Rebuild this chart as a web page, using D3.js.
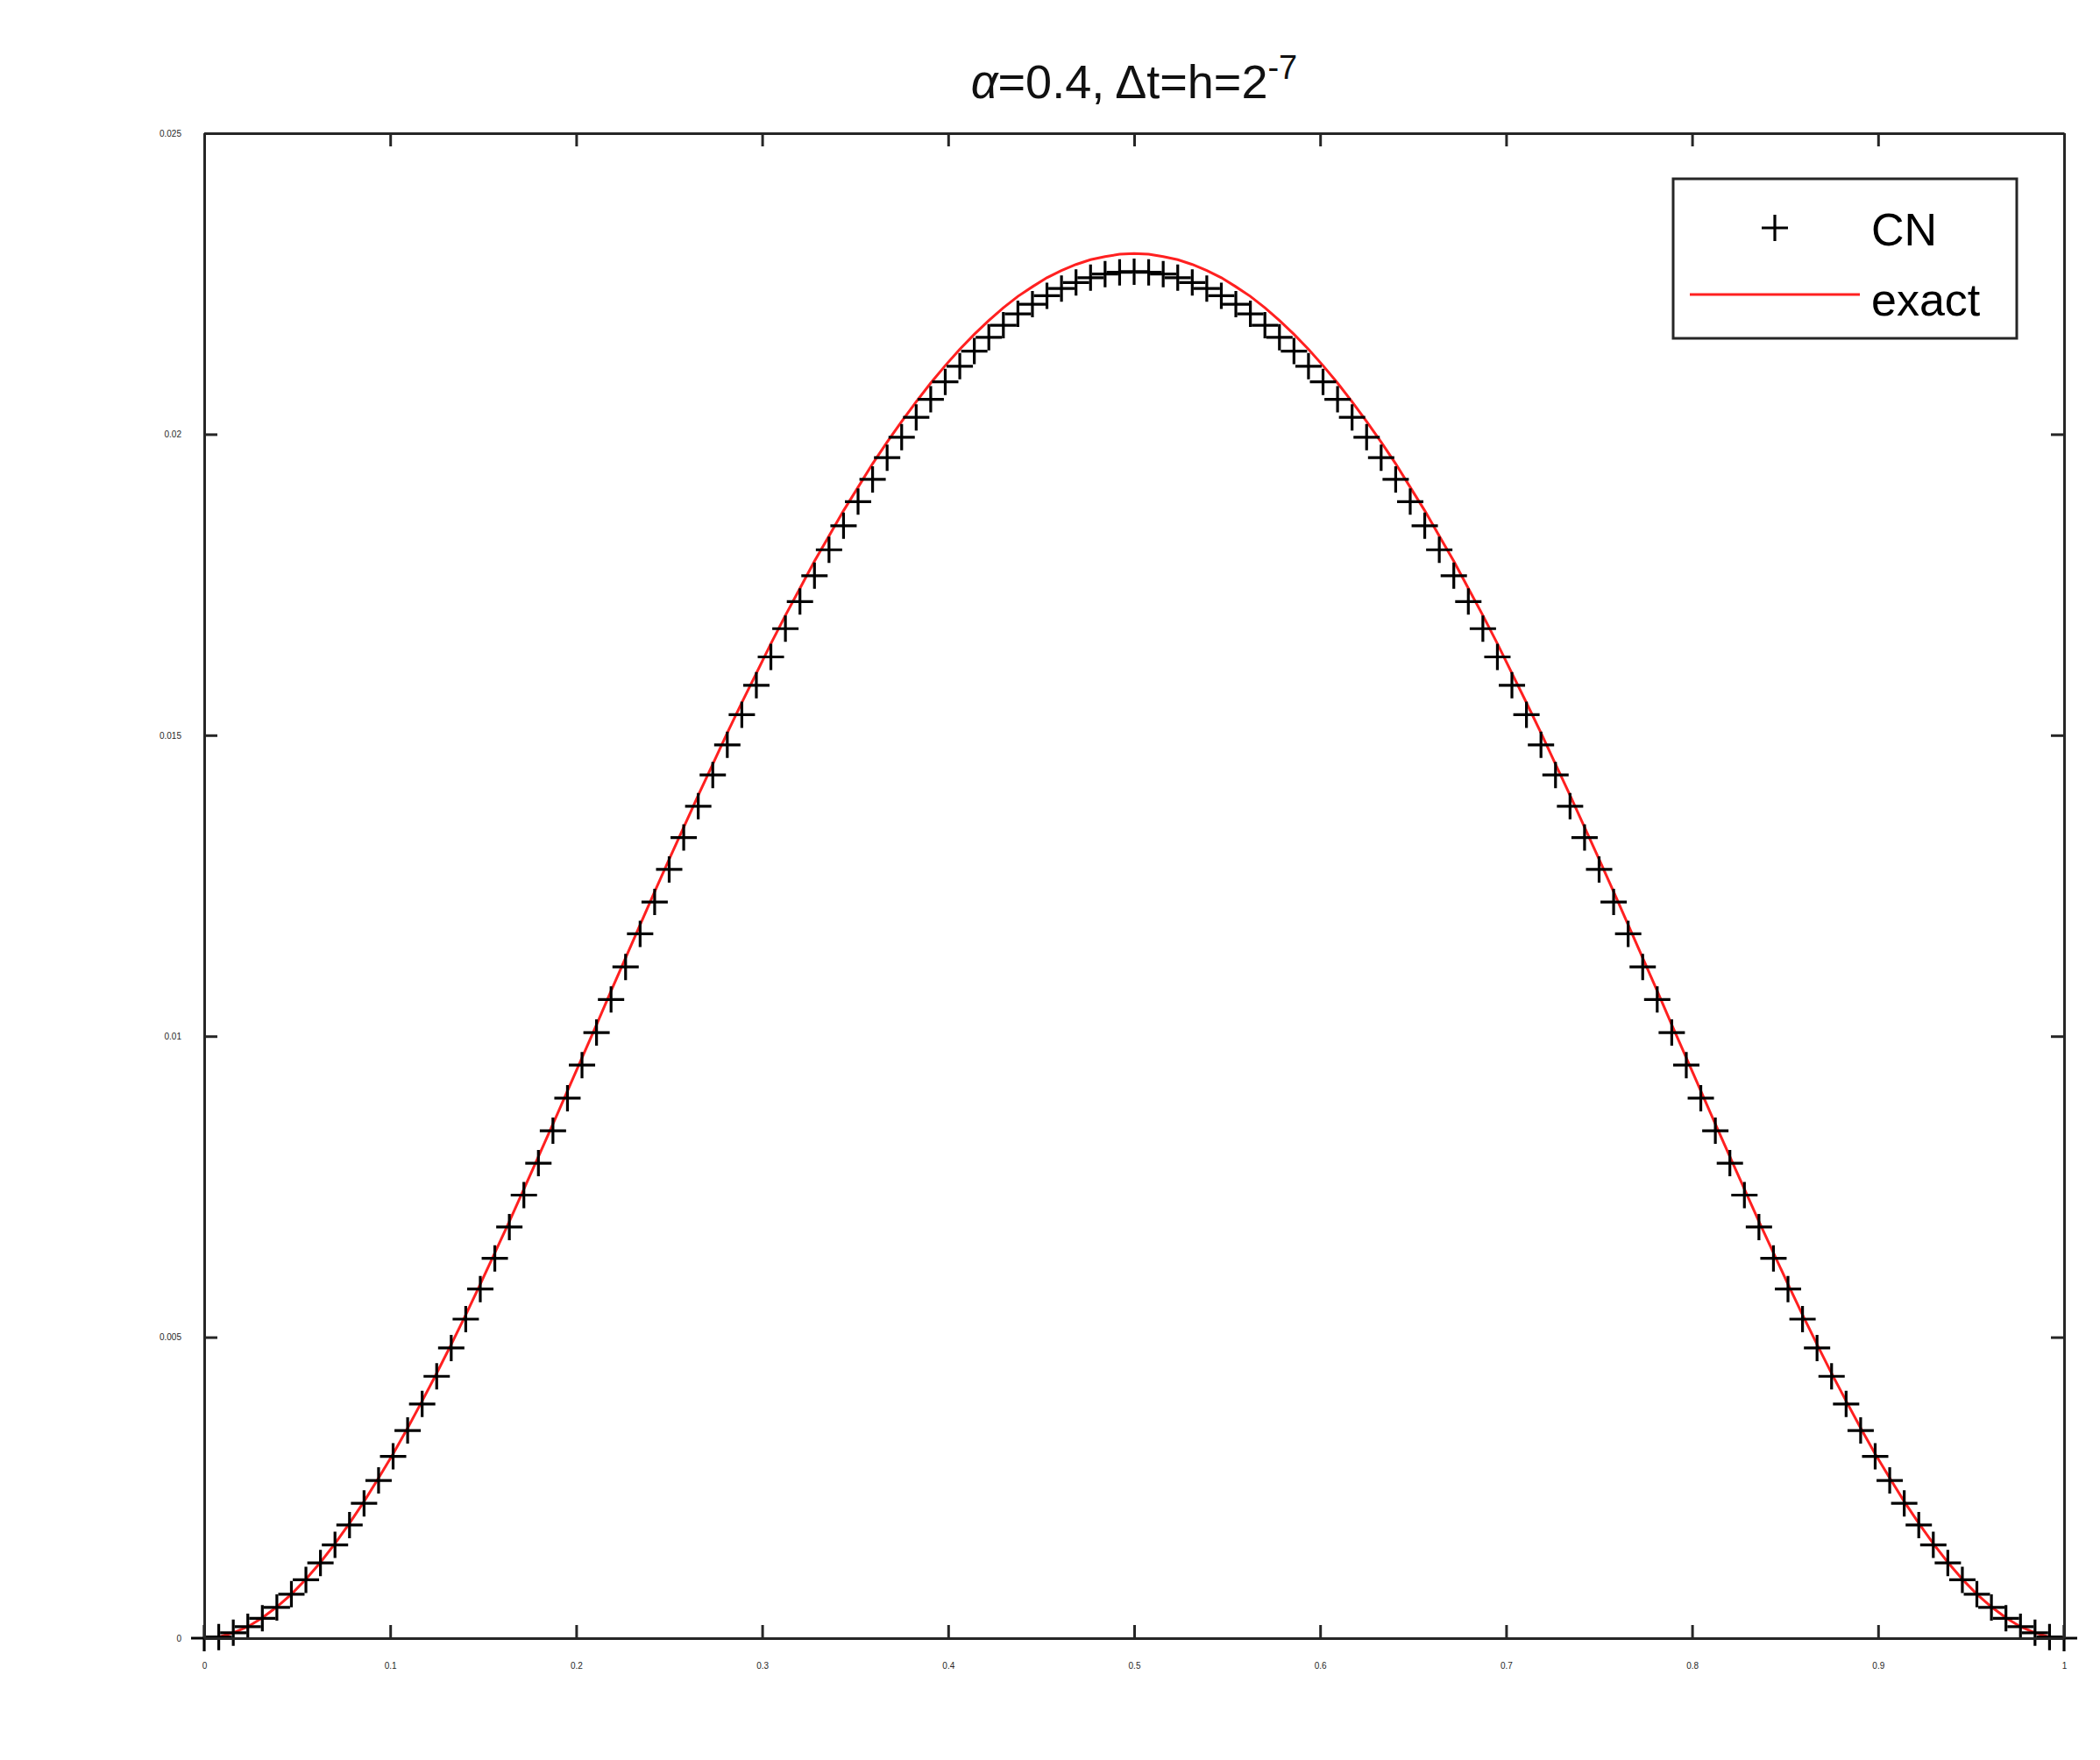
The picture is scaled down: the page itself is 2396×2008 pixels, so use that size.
<!DOCTYPE html>
<html><head><meta charset="utf-8">
<script src="https://cdn.jsdelivr.net/npm/d3@7"></script>
<style>body{margin:0;background:#fff}</style>
</head><body>
<svg id="chart" width="2396" height="2008"></svg>
<script>
// grid x = i/128, i = 0..128
const xTicks = [0,0.1,0.2,0.3,0.4,0.5,0.6,0.7,0.8,0.9,1];
const yTicks = [0,0.005,0.01,0.015,0.02,0.025];
const exactVals = [0,0.00002,0.00009,0.00019,0.00034,0.00052,0.00073,0.00098,0.00126,0.00157,0.00191,0.00227,0.00266,0.00306,0.00349,0.00394,0.00440,0.00488,0.00537,0.00588,0.00640,0.00692,0.00746,0.00800,0.00854,0.00909,0.00964,0.01019,0.01075,0.01130,0.01185,0.01240,0.01294,0.01347,0.01400,0.01452,0.01504,0.01554,0.01603,0.01652,0.01699,0.01744,0.01789,0.01831,0.01873,0.01912,0.01951,0.01987,0.02021,0.02054,0.02085,0.02114,0.02141,0.02166,0.02189,0.02210,0.02229,0.02245,0.02260,0.02272,0.02282,0.02290,0.02295,0.02299,0.02300,
0.02299,0.02295,0.02290,0.02282,0.02272,0.02260,0.02245,0.02229,0.02210,0.02189,0.02166,0.02141,0.02114,0.02085,0.02054,0.02021,0.01987,0.01951,0.01912,0.01873,0.01831,0.01789,0.01744,0.01699,0.01652,0.01603,0.01554,0.01504,0.01452,0.01400,0.01347,0.01294,0.01240,0.01185,0.01130,0.01075,0.01019,0.00964,0.00909,0.00854,0.00800,0.00746,0.00692,0.00640,0.00588,0.00537,0.00488,0.00440,0.00394,0.00349,0.00306,0.00266,0.00227,0.00191,0.00157,0.00126,0.00098,0.00073,0.00052,0.00034,0.00019,0.00009,0.00002,0];
const cnVals = [0,0.00002,0.00009,0.00019,0.00033,0.00051,0.00073,0.00097,0.00125,0.00155,0.00188,0.00224,0.00262,0.00302,0.00345,0.00389,0.00435,0.00482,0.00530,0.00580,0.00631,0.00683,0.00736,0.00789,0.00843,0.00897,0.00952,0.01006,0.01061,0.01115,0.01170,0.01223,0.01277,0.01330,0.01382,0.01434,0.01484,0.01534,0.01583,0.01630,0.01677,0.01722,0.01765,0.01808,0.01848,0.01888,0.01925,0.01961,0.01995,0.02028,0.02058,0.02087,0.02113,0.02138,0.02161,0.02181,0.02200,0.02216,0.02230,0.02242,0.02252,0.02260,0.02266,0.02269,0.02270,
0.02269,0.02266,0.02260,0.02252,0.02242,0.02230,0.02216,0.02200,0.02181,0.02161,0.02138,0.02113,0.02087,0.02058,0.02028,0.01995,0.01961,0.01925,0.01888,0.01848,0.01808,0.01765,0.01722,0.01677,0.01630,0.01583,0.01534,0.01484,0.01434,0.01382,0.01330,0.01277,0.01223,0.01170,0.01115,0.01061,0.01006,0.00952,0.00897,0.00843,0.00789,0.00736,0.00683,0.00631,0.00580,0.00530,0.00482,0.00435,0.00389,0.00345,0.00302,0.00262,0.00224,0.00188,0.00155,0.00125,0.00097,0.00073,0.00051,0.00033,0.00019,0.00009,0.00002,0];
const xGrid = exactVals.map((_, i) => i / 128);

const L = 233, R = 2355, T = 152, B = 1869;
const svg = d3.select("#chart");
const x = d3.scaleLinear().domain([0, 1]).range([L, R]);
const y = d3.scaleLinear().domain([0, 0.025]).range([B, T]);
const font = "'Liberation Sans', Arial, sans-serif";
const fmt = d => d === 0 ? "0" : String(d);

// exact curve first, markers on top
svg.append("path")
  .attr("d", d3.line().x((d, i) => x(xGrid[i])).y(d => y(d))(exactVals))
  .attr("fill", "none").attr("stroke", "#ff2020").attr("stroke-width", 3);

const s = 15;
svg.selectAll("path.cn").data(cnVals).enter().append("path")
  .attr("class", "cn")
  .attr("d", (d, i) => {
    const px = x(xGrid[i]), py = y(d);
    return `M${px - s},${py}H${px + s}M${px},${py - s}V${py + s}`;
  })
  .attr("stroke", "#000").attr("stroke-width", 3.2);

// axes box with inward ticks
const axG = svg.append("g").attr("font-family", font).attr("font-size", 52);
const axBottom = axG.append("g").attr("transform", `translate(0,${B})`)
  .call(d3.axisBottom(x).tickValues(xTicks).tickFormat(fmt).tickSizeInner(-15).tickSizeOuter(0).tickPadding(26));
axG.append("g").attr("transform", `translate(0,${T})`)
  .call(d3.axisTop(x).tickValues(xTicks).tickFormat("").tickSizeInner(-15).tickSizeOuter(0));
axG.append("g").attr("transform", `translate(${L},0)`)
  .call(d3.axisLeft(y).tickValues(yTicks).tickFormat(fmt).tickSizeInner(-15).tickSizeOuter(0).tickPadding(26));
axG.append("g").attr("transform", `translate(${R},0)`)
  .call(d3.axisRight(y).tickValues(yTicks).tickFormat("").tickSizeInner(-15).tickSizeOuter(0));
axG.selectAll("path.domain, line").attr("stroke", "#262626").attr("stroke-width", 3);
axG.selectAll("text").attr("fill", "#262626");
axBottom.selectAll("text").attr("dy", "0.9em");

// title
const title = svg.append("text").attr("x", (L + R) / 2).attr("y", 112)
  .attr("text-anchor", "middle").attr("font-family", font).attr("font-size", 54).attr("fill", "#111");
title.append("tspan").attr("font-style", "italic").text("α");
title.append("tspan").text("=0.4, Δt=h=2");
title.append("tspan").attr("font-size", 38).attr("dy", -22).text("-7");

// legend
const lg = svg.append("g").attr("font-family", font).attr("font-size", 52);
lg.append("rect").attr("x", 1909).attr("y", 204).attr("width", 392).attr("height", 182)
  .attr("fill", "#fff").attr("stroke", "#262626").attr("stroke-width", 3);
lg.append("path").attr("d", `M${2025 - s},260H${2025 + s}M2025,${260 - s}V${260 + s}`)
  .attr("stroke", "#000").attr("stroke-width", 3.2);
lg.append("line").attr("x1", 1928).attr("x2", 2122).attr("y1", 336).attr("y2", 336)
  .attr("stroke", "#ff2020").attr("stroke-width", 3);
lg.append("text").attr("x", 2135).attr("y", 280).text("CN");
lg.append("text").attr("x", 2135).attr("y", 360).text("exact");
</script>
</body></html>
